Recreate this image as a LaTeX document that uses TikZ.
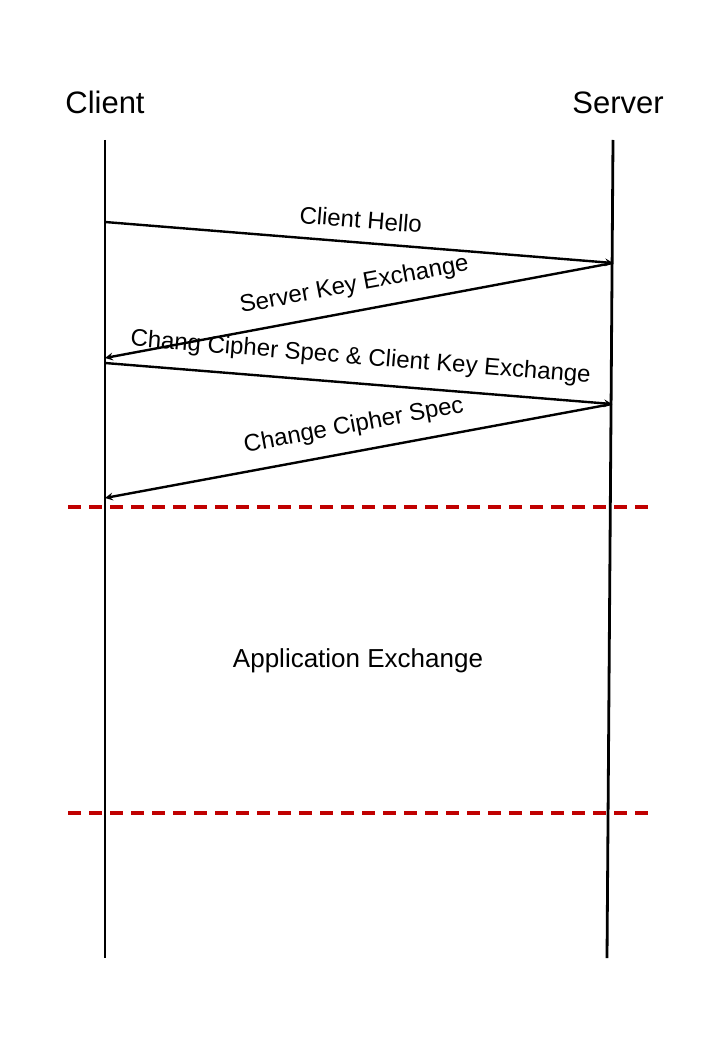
\documentclass[tikz,border=0pt]{standalone}
\usepackage{fontspec}
\setmainfont{Liberation Sans}
\usetikzlibrary{arrows}
\definecolor{sepred}{RGB}{192,0,0}
\tikzset{
    lifeline/.style={line width=2.8pt},
    msg/.style={line width=2.4pt,-stealth},
    msglabel/.style={midway,sloped,above=13pt,inner sep=0pt,font=\fontsize{24}{28}\selectfont},
    title/.style={anchor=base,font=\fontsize{31}{36}\selectfont},
    sepline/.style={sepred,line width=3.2pt,dash pattern=on 12.5pt off 8.5pt}
}
\begin{document}
\begin{tikzpicture}[x=1pt,y=-1pt]
            \useasboundingbox (0,0) rectangle (720,1040);
            \node[title] (client) at (105,114) {Client};
            \node[title] (server) at (618,114) {Server};
            \coordinate (ctop) at (105,140);
            \coordinate (cbot) at (105,958);
            \coordinate (stop) at (613,140);
            \coordinate (sbot) at (607,958);
            \draw [lifeline] (ctop)--(cbot);
            \draw [lifeline] (stop)--(sbot);
            \coordinate (c1) at (105,222);
            \coordinate (s1) at (613,263);
            \coordinate (c2) at (105,358);
            \coordinate (c3) at (105,363);
            \coordinate (s2) at (612,404);
            \coordinate (c4) at (105,498);
            \draw [msg] (c1)--(s1) node[msglabel] {Client Hello};
            \draw [msg,stealth-] (c2)--(s1) node[msglabel] {Server Key Exchange};
            \draw [msg] (c3)--(s2) node[msglabel] {Chang Cipher Spec \& Client Key Exchange};
            \draw [msg,stealth-] (c4)--(s2) node[msglabel] {Change Cipher Spec};
            \foreach \y in {507,813}
                \draw [sepline] (68,\y)--(650,\y);
            \node[font=\fontsize{26}{30}\selectfont] (app) at (358,661) {Application Exchange};
        \end{tikzpicture}
\end{document}
